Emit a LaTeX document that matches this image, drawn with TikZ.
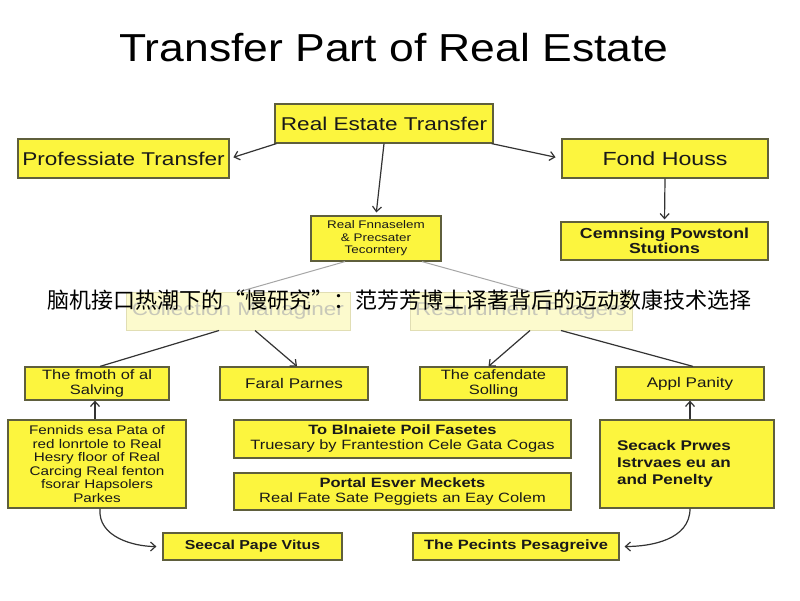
\documentclass[tikz,border=0pt]{standalone}
\usepackage{fontspec}
\setmainfont[FakeStretch=1.22]{Liberation Sans}
\newfontfamily\titlefont[FakeStretch=1.14]{Liberation Sans}
\newfontfamily\cjk{Noto Sans CJK SC}
\usetikzlibrary{arrows.meta}
\definecolor{boxfill}{RGB}{252,245,62}
\definecolor{boxline}{RGB}{95,95,60}
\definecolor{fadefill}{RGB}{252,250,205}
\definecolor{fadeline}{RGB}{225,222,180}
\definecolor{fadetext}{RGB}{200,200,185}
\tikzset{
  box/.style={draw=boxline, fill=boxfill, line width=1.2pt, inner sep=0pt, align=center, text=black!90},
  fadebox/.style={draw=fadeline, fill=fadefill, line width=1pt, inner sep=0pt, align=center, text=fadetext},
  arr/.style={draw=black!80, line width=1.2pt, -{Straight Barb[length=5pt,width=9pt]}},
  ln/.style={draw=black!80, line width=1.2pt},
  fadeln/.style={draw=black!35, line width=1pt},
}
\begin{document}
\begin{tikzpicture}[x=1pt,y=-1pt]
\useasboundingbox[fill=white] (0,0) rectangle (800,600);

\node[font=\titlefont\fontsize{39}{42}\selectfont] (title) at (394,48) {Transfer Part of Real Estate};

\node[box, minimum width=218pt, minimum height=39pt, font=\fontsize{18.5}{20}\selectfont] (ret) at (384,123.5) {Real Estate Transfer};
\node[box, minimum width=211pt, minimum height=39pt, font=\fontsize{18.5}{20}\selectfont] (pt) at (123.5,158.5) {Professiate Transfer};
\node[box, minimum width=206pt, minimum height=39pt, font=\fontsize{19}{20}\selectfont] (fh) at (665,158.5) {Fond Houss};
\node[box, minimum width=130pt, minimum height=45pt, font=\fontsize{11}{12.5}\selectfont] (rf) at (376,238.5) {Real Fnnaselem\\ \& Precsater\\ Tecorntery};
\node[box, minimum width=207pt, minimum height=38pt, font=\bfseries\fontsize{14.5}{15.5}\selectfont] (cp) at (664.5,241) {Cemnsing Powstonl\\ Stutions};

\node[fadebox, minimum width=224pt, minimum height=38pt, font=\fontsize{18.5}{20}\selectfont] (cm) at (238,311) {Collection Managiner};
\node[fadebox, minimum width=222pt, minimum height=38pt, font=\fontsize{18.5}{20}\selectfont] (rm) at (521,311) {Resurument Fuagers};

\node[box, minimum width=144pt, minimum height=33pt, font=\fontsize{13.5}{14.5}\selectfont] (ra) at (97,383.5) {The fmoth of al\\ Salving};
\node[box, minimum width=148pt, minimum height=33pt, font=\fontsize{14}{14.5}\selectfont] (rb3) at (294,383.5) {Faral Parnes};
\node[box, minimum width=147pt, minimum height=33pt, font=\fontsize{13.5}{14.5}\selectfont] (rc) at (493.5,383.5) {The cafendate\\ Solling};
\node[box, minimum width=148pt, minimum height=33pt, font=\fontsize{14}{14.5}\selectfont] (rd) at (690,383.5) {Appl Panity};

\node[box, minimum width=178pt, minimum height=88pt, font=\fontsize{12.5}{13.5}\selectfont] (lb) at (97,464) {Fennids esa Pata of\\ red lonrtole to Real\\ Hesry floor of Real\\ Carcing Real fenton\\ fsorar Hapsolers\\ Parkes};
\node[box, minimum width=337pt, minimum height=38pt, font=\fontsize{13.5}{15}\selectfont] (m1) at (402.5,439) {\textbf{To Blnaiete Poil Fasetes}\\ Truesary by Frantestion Cele Gata Cogas};
\node[box, minimum width=337pt, minimum height=37pt, font=\fontsize{13.5}{15}\selectfont] (m2) at (402.5,491.5) {\textbf{Portal Esver Meckets}\\ Real Fate Sate Peggiets an Eay Colem};
\node[box, minimum width=174pt, minimum height=88pt, font=\bfseries\fontsize{14}{17}\selectfont, align=left, text width=140pt] (rb) at (687,464) {Secack Prwes\\ Istrvaes eu an\\ and Penelty};

\node[box, minimum width=179pt, minimum height=27pt, font=\bfseries\fontsize{13}{14.5}\selectfont] (b1) at (252.5,546.5) {Seecal Pape Vitus};
\node[box, minimum width=206pt, minimum height=27pt, font=\bfseries\fontsize{13.5}{14.5}\selectfont] (b2) at (516,546.5) {The Pecints Pesagreive};

% connectors
\draw[arr, shorten >=4pt] ([xshift=2pt]ret.south west) -- (pt.east);
\draw[arr, shorten >=6pt] ([xshift=-2pt]ret.south east) -- (fh.west);
\draw[arr, shorten >=3pt] (ret.south) -- (rf.north);
\draw[arr, shorten >=2pt] (fh.south) -- (cp.north);
\draw[fadeln] ([xshift=-31pt]rf.south) -- ([xshift=2pt]cm.north);
\draw[fadeln] ([xshift=46pt]rf.south) -- ([xshift=9pt]rm.north);
\draw[ln] ([xshift=-19pt]cm.south) -- ([xshift=3pt]ra.north);
\draw[arr] ([xshift=17pt]cm.south) -- ([xshift=3pt]rb3.north);
\draw[arr] ([xshift=9pt]rm.south) -- ([xshift=-5pt]rc.north);
\draw[ln] ([xshift=40pt]rm.south) -- ([xshift=3pt]rd.north);
\draw[arr] ([xshift=-2pt]lb.north) -- ([xshift=-2pt]ra.south);
\draw[arr] ([xshift=3pt]rb.north) -- ([xshift=0pt]rd.south);
\draw[arr, shorten >=6pt] ([xshift=3pt]lb.south) to[out=-95,in=180] (b1.west);
\draw[arr, shorten >=5pt] ([xshift=3pt]rb.south) to[out=-90,in=0] (b2.east);

\node[font=\cjk\fontsize{22}{24}\selectfont, text=black] (cap) at (399,300) {脑机接口热潮下的“慢研究”：范芳芳博士译著背后的迈动数康技术选择};
\end{tikzpicture}
\end{document}
